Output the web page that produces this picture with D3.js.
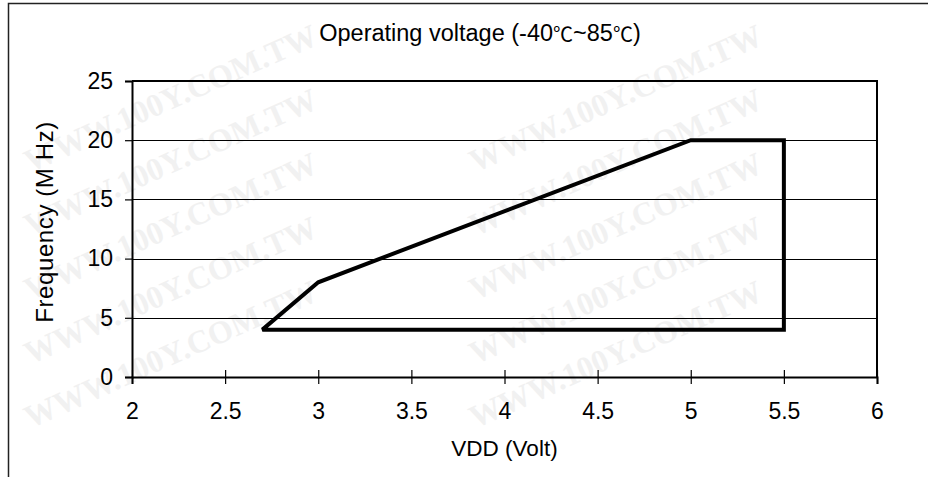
<!DOCTYPE html>
<html>
<head>
<meta charset="utf-8">
<script src="https://cdn.jsdelivr.net/npm/d3@7"></script>
<style>
  html, body { margin: 0; padding: 0; background: #fff; }
  svg { display: block; }
  text { font-family: "Liberation Sans", Arial, sans-serif; fill: #000; }
</style>
</head>
<body>
<svg id="chart" width="928" height="477"></svg>
<script>
// Operating window: supply voltage vs. maximum clock frequency
const vdd = [2.7, 3, 5, 5.5, 5.5, 2.7];          // Volt
const freqMHz = [4, 8, 20, 20, 4, 4];            // M Hz
const xTicks = [2, 2.5, 3, 3.5, 4, 4.5, 5, 5.5, 6];
const yTicks = [0, 5, 10, 15, 20, 25];
const xTickLabels = ["2", "2.5", "3", "3.5", "4", "4.5", "5", "5.5", "6"];
const yTickLabels = ["0", "5", "10", "15", "20", "25"];
const watermark = "WWW.100Y.COM.TW";

const svg = d3.select("#chart");
const plot = { left: 132, right: 877, top: 81, bottom: 377 };

const x = d3.scaleLinear().domain([2, 6]).range([plot.left, plot.right]);
const y = d3.scaleLinear().domain([0, 25]).range([plot.bottom, plot.top]);

// faint background watermark
const wm = svg.append("g").attr("class", "watermark");
const wmCols = [175, 620];
for (const cx of wmCols) {
  for (let cy = 108; cy <= 364; cy += 64) {
    wm.append("text")
      .attr("transform", `translate(${cx},${cy}) rotate(-24)`)
      .attr("text-anchor", "middle")
      .style("font-family", "'Liberation Serif', serif")
      .style("font-weight", "bold")
      .style("font-size", "32px")
      .style("fill", "#f1f1f1")
      .text(watermark);
  }
}

// outer frame
svg.append("rect")
  .attr("x", 8.5).attr("y", 3.5)
  .attr("width", 940).attr("height", 500)
  .attr("fill", "none").attr("stroke", "#222").attr("stroke-width", 1.5);

// horizontal gridlines
svg.append("g")
  .selectAll("line")
  .data(yTicks.filter(v => v > 0 && v < 25))
  .join("line")
  .attr("x1", plot.left).attr("x2", plot.right)
  .attr("y1", d => Math.round(y(d)) + 0.5).attr("y2", d => Math.round(y(d)) + 0.5)
  .attr("stroke", "#000").attr("stroke-width", 1);

// top and right plot border
svg.append("path")
  .attr("d", `M${plot.left},${y(25)}H${x(6)}V${y(0)}`)
  .attr("fill", "none").attr("stroke", "#000").attr("stroke-width", 2);

// x axis: ticks crossing the axis line
const xAxis = svg.append("g")
  .attr("transform", `translate(0,${y(0)})`)
  .call(d3.axisBottom(x).tickValues(xTicks)
    .tickFormat((d, i) => xTickLabels[i]).tickSize(7).tickPadding(19));
xAxis.select(".domain").attr("stroke", "#000").attr("stroke-width", 2);
xAxis.selectAll(".tick line").attr("y1", -7).attr("stroke", "#000").attr("stroke-width", 1.2);
xAxis.selectAll(".tick text").style("font-size", "23px")
  .attr("dy", "0.71em");

// y axis: outside ticks
const yAxis = svg.append("g")
  .attr("transform", `translate(${x(2)},0)`)
  .call(d3.axisLeft(y).tickValues(yTicks)
    .tickFormat((d, i) => yTickLabels[i]).tickSize(7).tickPadding(12));
yAxis.select(".domain").attr("stroke", "#000").attr("stroke-width", 2);
yAxis.selectAll(".tick line").attr("stroke", "#000").attr("stroke-width", 1.2);
yAxis.selectAll(".tick text").style("font-size", "23px");

// operating region outline
const pts = vdd.map((v, i) => [v, freqMHz[i]]);
const line = d3.line().x(d => x(d[0])).y(d => y(d[1]));
svg.append("path")
  .attr("d", line(pts) + "Z")
  .attr("fill", "none")
  .attr("stroke", "#000")
  .attr("stroke-width", 4)
  .attr("stroke-linejoin", "miter")
  .attr("stroke-miterlimit", 2);

// title
const title = svg.append("text")
  .attr("x", 480).attr("y", 41)
  .attr("text-anchor", "middle")
  .style("font-size", "23.5px");
title.append("tspan").text("Operating voltage (-40");
title.append("tspan").style("font-family", "'Noto Sans CJK JP'").style("font-size", "20px").attr("dy", 1).text("℃");
title.append("tspan").attr("dy", -1).text("~85");
title.append("tspan").style("font-family", "'Noto Sans CJK JP'").style("font-size", "20px").attr("dy", 1).text("℃");
title.append("tspan").attr("dy", -1).text(")");

// axis titles
svg.append("text")
  .attr("x", (plot.left + plot.right) / 2).attr("y", 456)
  .attr("text-anchor", "middle")
  .style("font-size", "22.5px")
  .text("VDD (Volt)");

svg.append("text")
  .attr("transform", `translate(53,222) rotate(-90)`)
  .attr("text-anchor", "middle")
  .style("font-size", "24px")
  .style("letter-spacing", "0.6px")
  .text("Frequency (M Hz)");
</script>
</body>
</html>
